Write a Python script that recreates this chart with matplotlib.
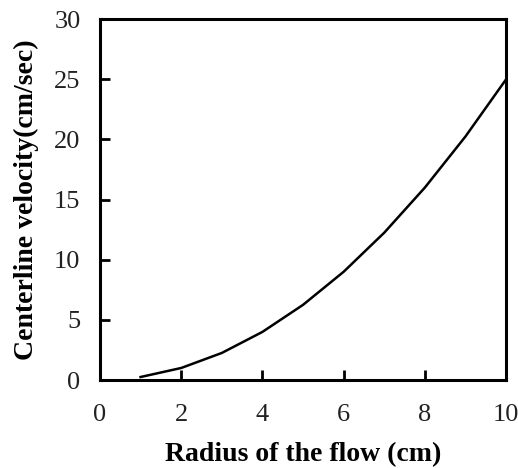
import matplotlib.pyplot as plt

radius = [1, 2, 3, 4, 5, 6, 7, 8, 9, 10]
velocity = [0.25, 1.0, 2.25, 4.0, 6.25, 9.0, 12.25, 16.0, 20.25, 25.0]

plt.rcParams['font.family'] = ['Liberation Serif', 'DejaVu Serif']

fig = plt.figure(figsize=(5.18, 4.68), dpi=100)
ax = fig.add_axes([0.193, 0.188, 0.784, 0.771])

ax.plot(radius, velocity, color='black', linewidth=1.8)

ax.set_xlim(0, 10)
ax.set_ylim(0, 30)
ax.set_xticks([0, 2, 4, 6, 8, 10])
ax.set_yticks([0, 5, 10, 15, 20, 25, 30])
ax.tick_params(direction='in', length=7, width=2, labelsize=19,
               top=False, right=False, labelcolor='#222222')
ax.tick_params(axis='x', pad=17)
ax.tick_params(axis='y', pad=14)
for s in ax.spines.values():
    s.set_linewidth(2.2)

ax.set_xlabel('Radius of the flow (cm)', fontsize=20, fontweight='bold', labelpad=12)
ax.set_ylabel('Centerline velocity(cm/sec)', fontsize=20, fontweight='bold', labelpad=11)

plt.savefig('out.png', dpi=100)
